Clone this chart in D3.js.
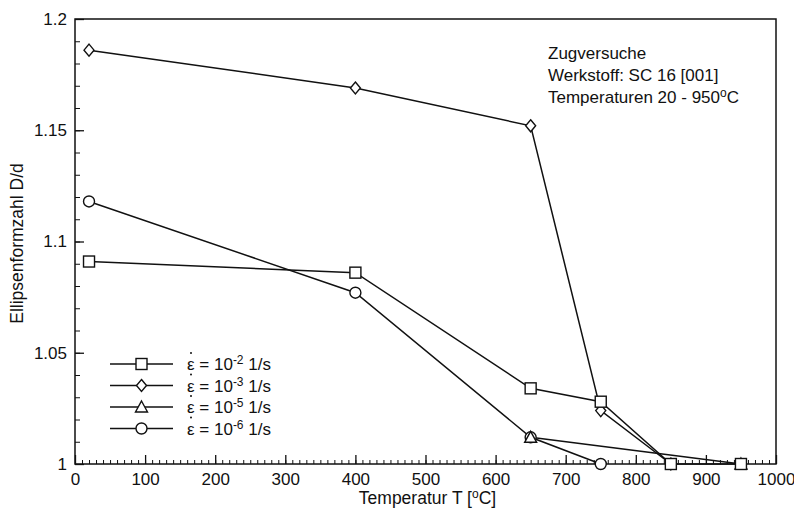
<!DOCTYPE html>
<html>
<head>
<meta charset="utf-8">
<script src="https://cdn.jsdelivr.net/npm/d3@7"></script>
<style>
  body { margin: 0; background: #fff; }
  text { font-family: "Liberation Sans", Arial, sans-serif; fill: #111; }
</style>
</head>
<body>
<div id="container"></div>
<script>
// --- data ---
var temps2 = [20, 400, 650, 750, 850, 950];
var vals2  = [1.091, 1.086, 1.034, 1.028, 1.0, 1.0];      // eps = 10^-2, squares

var temps3 = [20, 400, 650, 750, 850];
var vals3  = [1.186, 1.169, 1.152, 1.024, 1.0];           // eps = 10^-3, diamonds

var temps5 = [650, 950];
var vals5  = [1.012, 1.0];                                // eps = 10^-5, triangles

var temps6 = [20, 400, 650, 750];
var vals6  = [1.118, 1.077, 1.012, 1.0];                  // eps = 10^-6, circles

var legendExps = ["-2", "-3", "-5", "-6"];
var xTicks = [0, 100, 200, 300, 400, 500, 600, 700, 800, 900, 1000];
var yTicks = [1, 1.05, 1.1, 1.15, 1.2];
var infoLines = ["Zugversuche", "Werkstoff: SC 16 [001]"];

var series = [
    { t: temps2, v: vals2, sym: "square" },
    { t: temps3, v: vals3, sym: "diamond" },
    { t: temps5, v: vals5, sym: "triangle" },
    { t: temps6, v: vals6, sym: "circle" }
];

var svgWidth = 794, svgHeight = 511;
var margin = { top: 19, right: 18, bottom: 47, left: 75 },
    width = svgWidth - margin.left - margin.right,
    height = svgHeight - margin.top - margin.bottom;

var svg = d3.select("div#container")
    .append("svg")
    .attr("width", svgWidth)
    .attr("height", svgHeight)
    .append("g")
    .attr("transform", "translate(" + margin.left + "," + margin.top + ")");

var x = d3.scaleLinear().domain([0, 1000]).range([0, width]);
var y = d3.scaleLinear().domain([1, 1.2]).range([height, 0]);

// frame
svg.append("rect")
    .attr("x", 0).attr("y", 0)
    .attr("width", width).attr("height", height)
    .attr("fill", "none")
    .attr("stroke", "#111")
    .attr("stroke-width", 1.5);

// --- AXES (ticks inward) ---
var xMinor = d3.range(0, 1001, 10);
svg.append("g")
    .attr("transform", "translate(0," + height + ")")
    .call(d3.axisTop(x).tickValues(xMinor).tickSize(4).tickFormat(""))
    .call(g => g.select(".domain").remove())
    .call(g => g.selectAll("line").attr("stroke", "#111"));
svg.append("g")
    .attr("transform", "translate(0," + height + ")")
    .call(d3.axisTop(x).tickValues(xTicks).tickSize(9).tickFormat(""))
    .call(g => g.select(".domain").remove())
    .call(g => g.selectAll("line").attr("stroke", "#111").attr("stroke-width", 1.3));
svg.append("g")
    .attr("transform", "translate(0," + height + ")")
    .call(d3.axisBottom(x).tickValues(xTicks).tickSize(0).tickPadding(9).tickFormat(d3.format("d")))
    .call(g => g.select(".domain").remove())
    .call(g => g.selectAll("text").style("font-size", "17px").attr("fill", "#111"));

var yMinor = d3.range(1, 1.2001, 0.01);
svg.append("g")
    .call(d3.axisRight(y).tickValues(yMinor).tickSize(5).tickFormat(""))
    .call(g => g.select(".domain").remove())
    .call(g => g.selectAll("line").attr("stroke", "#111"));
svg.append("g")
    .call(d3.axisLeft(y).tickValues(yTicks).tickSize(0).tickPadding(8).tickFormat(d => d3.format("")(+d.toFixed(2))))
    .call(g => g.select(".domain").remove())
    .call(g => g.selectAll("text").style("font-size", "17px").attr("fill", "#111"));
svg.append("g")
    .call(d3.axisRight(y).tickValues(yTicks).tickSize(9).tickFormat(""))
    .call(g => g.select(".domain").remove())
    .call(g => g.selectAll("line").attr("stroke", "#111").attr("stroke-width", 1.3));

// axis titles
var xt = svg.append("text")
    .attr("x", width / 2 + 2)
    .attr("y", height + 40)
    .attr("text-anchor", "middle")
    .style("font-size", "17.5px");
xt.append("tspan").text("Temperatur T [");
xt.append("tspan").attr("dy", -6).style("font-size", "12px").text("o");
xt.append("tspan").attr("dy", 6).text("C]");

svg.append("text")
    .attr("transform", "translate(" + (-52) + "," + (height / 2 + 2) + ") rotate(-90)")
    .attr("text-anchor", "middle")
    .style("font-size", "17.5px")
    .text("Ellipsenformzahl D/d");

// info text
infoLines.forEach(function (s, i) {
    svg.append("text")
        .attr("x", 473).attr("y", 40 + i * 22)
        .style("font-size", "17px")
        .text(s);
});
var it = svg.append("text")
    .attr("x", 473).attr("y", 84)
    .style("font-size", "17px");
it.append("tspan").text("Temperaturen 20 - 950");
it.append("tspan").attr("dy", -6).style("font-size", "12px").text("o");
it.append("tspan").attr("dy", 6).text("C");

// --- markers ---
function drawMarker(g, sym, cx, cy) {
    var m;
    if (sym === "square") {
        m = g.append("rect").attr("x", cx - 5.5).attr("y", cy - 5.5).attr("width", 11).attr("height", 11);
    } else if (sym === "diamond") {
        m = g.append("path").attr("d", "M" + cx + "," + (cy - 6) + "L" + (cx + 5) + "," + cy + "L" + cx + "," + (cy + 6) + "L" + (cx - 5) + "," + cy + "Z");
    } else if (sym === "triangle") {
        m = g.append("path").attr("d", "M" + cx + "," + (cy - 6) + "L" + (cx + 6) + "," + (cy + 5) + "L" + (cx - 6) + "," + (cy + 5) + "Z");
    } else {
        m = g.append("circle").attr("cx", cx).attr("cy", cy).attr("r", 5.5);
    }
    m.attr("fill", "#fff").attr("stroke", "#111").attr("stroke-width", 1.4);
}

var line = d3.line().x(d => x(d[0])).y(d => y(d[1]));

series.forEach(function (s) {
    var pts = s.t.map((t, i) => [t, s.v[i]]);
    svg.append("path")
        .datum(pts)
        .attr("d", line)
        .attr("fill", "none")
        .attr("stroke", "#111")
        .attr("stroke-width", 1.5);
});
// markers drawn in reverse so squares end on top
series.slice().reverse().forEach(function (s) {
    var g = svg.append("g");
    s.t.forEach(function (t, i) {
        drawMarker(g, s.sym, x(t), y(s.v[i]));
    });
});

// --- Legend ---
var legX0 = 35, legX1 = 98, legY = 345, legStep = 21.5;
series.forEach(function (s, i) {
    var yy = legY + i * legStep;
    svg.append("line")
        .attr("x1", legX0).attr("x2", legX1)
        .attr("y1", yy).attr("y2", yy)
        .attr("stroke", "#111").attr("stroke-width", 1.5);
    drawMarker(svg.append("g"), s.sym, (legX0 + legX1) / 2, yy);

    // epsilon with dot above
    svg.append("circle")
        .attr("cx", 116).attr("cy", yy - 11)
        .attr("r", 1).attr("fill", "#111");
    var lt = svg.append("text")
        .attr("x", 112).attr("y", yy + 6)
        .style("font-size", "17px");
    lt.append("tspan").text("ε = 10");
    lt.append("tspan").attr("dy", -6).style("font-size", "12px").text(legendExps[i]);
    lt.append("tspan").attr("dy", 6).text(" 1/s");
});
</script>
</body>
</html>
